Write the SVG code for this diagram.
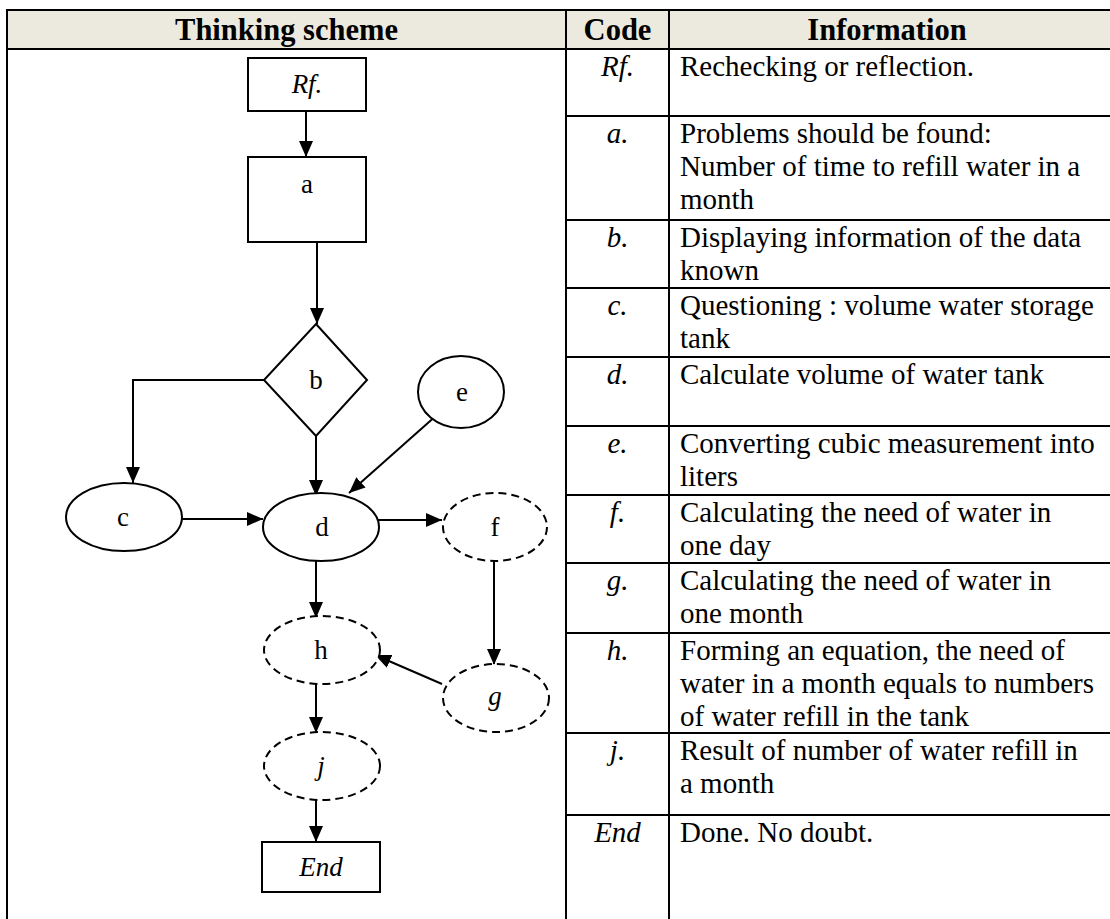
<svg xmlns="http://www.w3.org/2000/svg" width="1110" height="919" viewBox="0 0 1110 919">
<style>
text{font-family:"Liberation Serif","Times New Roman",serif;fill:#000}
.hd{font-size:30.5px;font-weight:bold;text-anchor:middle}
.cd{font-size:29px;font-style:italic;text-anchor:middle}
.tx{font-size:29px}
.lb{font-size:27px;text-anchor:middle}
.it{font-style:italic}
.tl{stroke:#000;stroke-width:2;fill:none}
.nd{stroke:#000;stroke-width:2;fill:#fff}
.ds{stroke-dasharray:8 5}
.cn{stroke:#000;stroke-width:2;fill:none;marker-end:url(#ah)}
</style>
<defs>
<marker id="ah" markerUnits="userSpaceOnUse" markerWidth="16" markerHeight="14" refX="16" refY="7" orient="auto">
<path d="M0,0 L16,7 L0,14 z" fill="#000"/>
</marker>
</defs>
<rect x="0" y="0" width="1110" height="919" fill="#fff"/>
<g id="table">
<rect x="7" y="10" width="1103" height="39" fill="#ECEADF"/>
<line class="tl" x1="6" y1="10" x2="1110" y2="10"/>
<line class="tl" x1="6" y1="49" x2="1110" y2="49"/>
<line class="tl" x1="7" y1="10" x2="7" y2="919"/>
<line class="tl" x1="566" y1="10" x2="566" y2="919"/>
<line class="tl" x1="669" y1="10" x2="669" y2="919"/>
<g class="tl">
<line x1="566" y1="116" x2="1110" y2="116"/>
<line x1="566" y1="220" x2="1110" y2="220"/>
<line x1="566" y1="288" x2="1110" y2="288"/>
<line x1="566" y1="357" x2="1110" y2="357"/>
<line x1="566" y1="426" x2="1110" y2="426"/>
<line x1="566" y1="495" x2="1110" y2="495"/>
<line x1="566" y1="563" x2="1110" y2="563"/>
<line x1="566" y1="633" x2="1110" y2="633"/>
<line x1="566" y1="733" x2="1110" y2="733"/>
<line x1="566" y1="815" x2="1110" y2="815"/>
</g>
<text class="hd" x="286.5" y="40">Thinking scheme</text>
<text class="hd" x="617.5" y="40">Code</text>
<text class="hd" x="887" y="40">Information</text>
<text class="cd" x="617.5" y="76">Rf.</text>
<text class="tx" x="680" y="76">Rechecking or reflection.</text>
<text class="cd" x="617.5" y="143">a.</text>
<text class="tx" x="680" y="143">Problems should be found:</text>
<text class="tx" x="680" y="176">Number of time to refill water in a</text>
<text class="tx" x="680" y="209">month</text>
<text class="cd" x="617.5" y="247">b.</text>
<text class="tx" x="680" y="247">Displaying information of the data</text>
<text class="tx" x="680" y="280">known</text>
<text class="cd" x="617.5" y="315">c.</text>
<text class="tx" x="680" y="315">Questioning : volume water storage</text>
<text class="tx" x="680" y="348">tank</text>
<text class="cd" x="617.5" y="384">d.</text>
<text class="tx" x="680" y="384">Calculate volume of water tank</text>
<text class="cd" x="617.5" y="453">e.</text>
<text class="tx" x="680" y="453">Converting cubic measurement into</text>
<text class="tx" x="680" y="486">liters</text>
<text class="cd" x="617.5" y="522">f.</text>
<text class="tx" x="680" y="522">Calculating the need of water in</text>
<text class="tx" x="680" y="555">one day</text>
<text class="cd" x="617.5" y="590">g.</text>
<text class="tx" x="680" y="590">Calculating the need of water in</text>
<text class="tx" x="680" y="623">one month</text>
<text class="cd" x="617.5" y="660">h.</text>
<text class="tx" x="680" y="660">Forming an equation, the need of</text>
<text class="tx" x="680" y="693">water in a month equals to numbers</text>
<text class="tx" x="680" y="726">of water refill in the tank</text>
<text class="cd" x="617.5" y="760">j.</text>
<text class="tx" x="680" y="760">Result of number of water refill in</text>
<text class="tx" x="680" y="793">a month</text>
<text class="cd" x="617.5" y="842">End</text>
<text class="tx" x="680" y="842">Done. No doubt.</text>
</g>
<g id="connectors">
<line class="cn" x1="306" y1="111" x2="306" y2="157"/>
<line class="cn" x1="317" y1="242" x2="317" y2="324"/>
<polyline class="cn" points="264,380 133,380 133,483"/>
<line class="cn" x1="316" y1="436" x2="316" y2="496"/>
<line class="cn" x1="438" y1="414" x2="349" y2="493"/>
<line class="cn" x1="182" y1="519" x2="263" y2="519"/>
<line class="cn" x1="375" y1="520" x2="442" y2="520"/>
<line class="cn" x1="316" y1="561" x2="316" y2="618"/>
<line class="cn" x1="494" y1="561" x2="494" y2="665"/>
<line class="cn" x1="442" y1="684" x2="375" y2="655"/>
<line class="cn" x1="316" y1="684" x2="316" y2="733"/>
<line class="cn" x1="316" y1="800" x2="316" y2="842"/>
</g>
<g id="node-rf"><rect class="nd" x="248" y="58" width="118" height="53"/><text class="lb it" x="307" y="93">Rf.</text></g>
<g id="node-a"><rect class="nd" x="248" y="157" width="118" height="85"/><text class="lb" x="307" y="193">a</text></g>
<g id="node-b"><polygon class="nd" points="316,324 367,380 316,436 264,380"/><text class="lb" x="316" y="389">b</text></g>
<g id="node-c"><ellipse class="nd" cx="124" cy="517" rx="58" ry="34"/><text class="lb" x="123" y="526">c</text></g>
<g id="node-d"><ellipse class="nd" cx="321" cy="527" rx="58" ry="34"/><text class="lb" x="322" y="536">d</text></g>
<g id="node-e"><ellipse class="nd" cx="461" cy="392" rx="43" ry="36"/><text class="lb" x="462" y="401">e</text></g>
<g id="node-f"><ellipse class="nd ds" cx="495" cy="527" rx="52" ry="34"/><text class="lb" x="495" y="536">f</text></g>
<g id="node-h"><ellipse class="nd ds" cx="322" cy="650" rx="58" ry="34"/><text class="lb" x="321" y="659">h</text></g>
<g id="node-g"><ellipse class="nd ds" cx="496" cy="698" rx="53" ry="34"/><text class="lb it" x="495" y="705">g</text></g>
<g id="node-j"><ellipse class="nd ds" cx="322" cy="766" rx="58" ry="34"/><text class="lb it" x="321" y="775">j</text></g>
<g id="node-end"><rect class="nd" x="262" y="842" width="118" height="50"/><text class="lb it" x="321" y="876">End</text></g>
</svg>
